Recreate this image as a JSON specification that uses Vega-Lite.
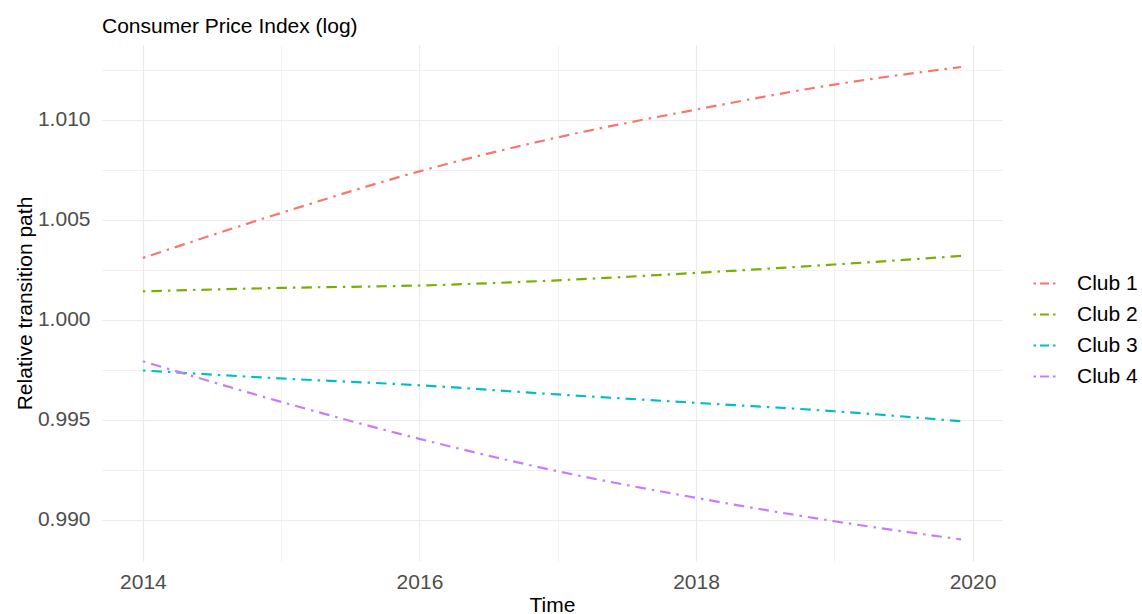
{
  "$schema": "https://vega.github.io/schema/vega-lite/v6.json",
  "width": 900,
  "height": 516,
  "autosize": "none",
  "padding": {"left": 102, "top": 45, "right": 140, "bottom": 53},
  "background": "white",
  "config": {"view": {"stroke": null}, "font": "Liberation Sans"},
  "title": {"text": "Consumer Price Index (log)", "anchor": "start", "frame": "group", "fontSize": 21, "fontWeight": "normal", "color": "#000000", "baseline": "alphabetic", "offset": -9},
  "data": {"values": [
    {"Time": 2014, "value": 1.0031, "club": "Club 1"},
    {"Time": 2015, "value": 1.00535, "club": "Club 1"},
    {"Time": 2016, "value": 1.00743, "club": "Club 1"},
    {"Time": 2017, "value": 1.00913, "club": "Club 1"},
    {"Time": 2018, "value": 1.01052, "club": "Club 1"},
    {"Time": 2019, "value": 1.01177, "club": "Club 1"},
    {"Time": 2019.917, "value": 1.01265, "club": "Club 1"},
    {"Time": 2014, "value": 1.00143, "club": "Club 2"},
    {"Time": 2015, "value": 1.0016, "club": "Club 2"},
    {"Time": 2016, "value": 1.00172, "club": "Club 2"},
    {"Time": 2017, "value": 1.00198, "club": "Club 2"},
    {"Time": 2018, "value": 1.00235, "club": "Club 2"},
    {"Time": 2019, "value": 1.00277, "club": "Club 2"},
    {"Time": 2019.917, "value": 1.0032, "club": "Club 2"},
    {"Time": 2014, "value": 0.99747, "club": "Club 3"},
    {"Time": 2015, "value": 0.99707, "club": "Club 3"},
    {"Time": 2016, "value": 0.99673, "club": "Club 3"},
    {"Time": 2017, "value": 0.99627, "club": "Club 3"},
    {"Time": 2018, "value": 0.99585, "club": "Club 3"},
    {"Time": 2019, "value": 0.99543, "club": "Club 3"},
    {"Time": 2019.917, "value": 0.99493, "club": "Club 3"},
    {"Time": 2014, "value": 0.99793, "club": "Club 4"},
    {"Time": 2015, "value": 0.9959, "club": "Club 4"},
    {"Time": 2016, "value": 0.99405, "club": "Club 4"},
    {"Time": 2017, "value": 0.99243, "club": "Club 4"},
    {"Time": 2018, "value": 0.9911, "club": "Club 4"},
    {"Time": 2019, "value": 0.98993, "club": "Club 4"},
    {"Time": 2019.917, "value": 0.98902, "club": "Club 4"}
  ]},
  "mark": {"type": "line", "strokeWidth": 2.2, "strokeDash": [2.5, 6, 10.5, 6], "interpolate": "monotone"},
  "encoding": {
    "x": {
      "field": "Time", "type": "quantitative",
      "scale": {"domain": [2013.704, 2020.213], "nice": false, "zero": false},
      "axis": {
        "values": [2014, 2015, 2016, 2017, 2018, 2019, 2020],
        "labelExpr": "datum.value % 2 == 0 ? format(datum.value, 'd') : ''",
        "grid": true, "gridColor": "#EBEBEB",
        "gridWidth": {"condition": {"test": "datum.value % 2 == 0", "value": 1.2}, "value": 0.7},
        "ticks": false, "domain": false,
        "labelFontSize": 21, "labelColor": "#4D4D4D", "labelPadding": 10,
        "title": "Time", "titleFontSize": 21, "titleFontWeight": "normal", "titleColor": "#000000", "titlePadding": 2
      }
    },
    "y": {
      "field": "value", "type": "quantitative",
      "scale": {"domain": [0.98794, 1.01375], "nice": false, "zero": false},
      "axis": {
        "values": [0.99, 0.9925, 0.995, 0.9975, 1.0, 1.0025, 1.005, 1.0075, 1.01, 1.0125],
        "labelExpr": "round(datum.value * 400) % 2 == 0 ? format(datum.value, '.3f') : ''",
        "grid": true, "gridColor": "#EBEBEB",
        "gridWidth": {"condition": {"test": "round(datum.value * 400) % 2 == 0", "value": 1.2}, "value": 0.7},
        "ticks": false, "domain": false,
        "labelFontSize": 21, "labelColor": "#4D4D4D", "labelPadding": 12,
        "title": "Relative transition path", "titleFontSize": 21, "titleFontWeight": "normal", "titleColor": "#000000", "titlePadding": 2
      }
    },
    "color": {
      "field": "club", "type": "nominal",
      "scale": {"domain": ["Club 1", "Club 2", "Club 3", "Club 4"], "range": ["#F8766D", "#7CAE00", "#00BFC4", "#C77CFF"]},
      "legend": {
        "title": null, "orient": "none", "legendX": 930, "legendY": 226,
        "symbolType": "stroke", "symbolSize": 484, "symbolStrokeWidth": 2.2, "symbolDash": [2.5, 4, 9, 4],
        "labelFontSize": 21, "labelColor": "#000000", "labelOffset": 20, "rowPadding": 8
      }
    }
  }
}
